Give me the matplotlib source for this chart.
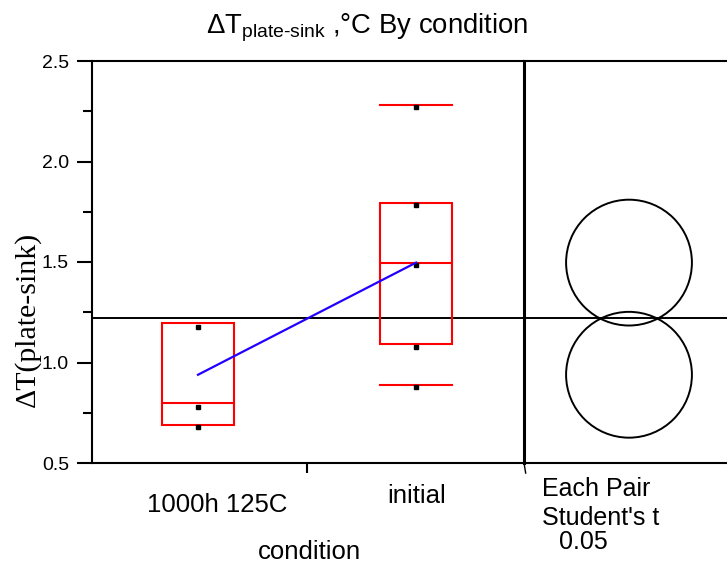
import matplotlib
matplotlib.use('Agg')
import matplotlib.pyplot as plt
from matplotlib.patches import Rectangle, Circle
import matplotlib.transforms as mtransforms

# ---- data ----
categories = ['1000h 125C', 'initial']
points_1000h = [1.178, 0.780, 0.679]
points_initial = [2.273, 1.785, 1.487, 1.079, 0.880]
q1 = [0.691, 1.090]
median = [0.800, 1.497]
q3 = [1.195, 1.795]
p10 = [None, 0.890]
p90 = [None, 2.283]
means = [0.939, 1.497]
grand_mean = 1.22
circle_radius = [0.313, 0.313]
yticks = [0.5, 1.0, 1.5, 2.0, 2.5]
ytick_labels = ['0.5', '1.0', '1.5', '2.0', '2.5']
yminor = [0.75, 1.25, 1.75, 2.25]
right_text = ['Each Pair', "Student's t", '0.05']

plt.rcParams['font.family'] = ['Liberation Sans', 'DejaVu Sans']
plt.rcParams['mathtext.fontset'] = 'custom'
plt.rcParams['mathtext.rm'] = 'Liberation Sans'
plt.rcParams['mathtext.it'] = 'Liberation Sans:italic'

W, H = 727, 564
fig = plt.figure(figsize=(W / 100, H / 100), dpi=100)

ax_l, ax_r, ax_mid, y_top, y_bot = 92, 524, 734, 61, 463
ax = fig.add_axes([ax_l / W, 1 - y_bot / H, (ax_r - ax_l) / W, (y_bot - y_top) / H])
ax2 = fig.add_axes([ax_r / W, 1 - y_bot / H, (ax_mid - ax_r) / W, (y_bot - y_top) / H])

ymin, ymax = 0.5, 2.5
ax.set_ylim(ymin, ymax)
ax.set_xlim(-0.486, 1.495)

lw = 1.5
red = '#ff0000'
hw = 0.165
all_points = [points_1000h, points_initial]
for i in range(len(categories)):
    ax.add_patch(Rectangle((i - hw, q1[i]), 2 * hw, q3[i] - q1[i], fill=False,
                           edgecolor=red, lw=lw, zorder=3))
    ax.plot([i - hw, i + hw], [median[i], median[i]], color=red, lw=lw, zorder=3)
    for v in (p10[i], p90[i]):
        if v is not None:
            ax.plot([i - hw, i + hw], [v, v], color=red, lw=lw, zorder=3)
    ax.plot([i] * len(all_points[i]), all_points[i], ls='none', marker='s',
            ms=3, color='black', zorder=4)

ax.plot(range(len(categories)), means, color='#2200ff', lw=1.6, zorder=5)
ax.axhline(grand_mean, color='black', lw=1.4, zorder=2)
ax2.axhline(grand_mean, color='black', lw=1.4, zorder=2)

# y axis
ax.set_yticks(yticks)
ax.set_yticklabels(ytick_labels)
ax.set_yticks(yminor, minor=True)
ax.tick_params(axis='y', which='major', length=10.8, width=1.5, pad=5.8,
               labelsize=14, direction='out')
ax.tick_params(axis='y', which='minor', length=6.5, width=1.5, direction='out')
ax.set_xticks([0.5])
ax.set_xticklabels([''])
ax.tick_params(axis='x', which='major', length=7.2, width=1.5, direction='out')
for s in ['left', 'bottom', 'top']:
    ax.spines[s].set_linewidth(1.5)
ax.spines['right'].set_visible(False)

# category labels
offsets = [(19.5, 49), (0.5, 40)]
for i, lab in enumerate(categories):
    tr = ax.get_xaxis_transform() + mtransforms.ScaledTranslation(
        offsets[i][0] / 100, -offsets[i][1] / 100, fig.dpi_scale_trans)
    ax.text(i, 0, lab, transform=tr, ha='center', va='baseline', fontsize=18.5)

# right panel
ax2.set_ylim(ymin, ymax)
px_per_unit = (y_bot - y_top) / (ymax - ymin)
half = (ax_mid - ax_r) / px_per_unit / 2
ax2.set_xlim(-half, half)
for m, r in zip(means, circle_radius):
    ax2.add_patch(Circle((0, m), r, fill=False, edgecolor='black', lw=1.4, zorder=3))
ax2.set_xticks([])
ax2.set_yticks([])
ax2.spines['left'].set_linewidth(2.2)
ax2.spines['top'].set_linewidth(1.5)
ax2.spines['bottom'].set_linewidth(1.5)
ax2.spines['right'].set_visible(False)
ax2.plot([0, 0.008], [0, -0.025], transform=ax2.transAxes, color='black',
         lw=1.0, clip_on=False)

# texts
fig.text(367 / W, 1 - 33 / H, 'ΔT$_{\\text{plate-sink}}$ ,°C By condition',
         ha='center', va='baseline', fontsize=19.8)
fig.text(27 / W, 1 - 319 / H, 'ΔT(plate-sink)', rotation=90, ha='center',
         va='center', fontsize=21.5, family=['Liberation Serif', 'DejaVu Serif'])
fig.text(309 / W, 1 - 559 / H, 'condition', ha='center', va='baseline', fontsize=18.5)
rt_pos = [(541.5, 496), (541.5, 525), (559, 549)]
for t, (x, y) in zip(right_text, rt_pos):
    fig.text(x / W, 1 - y / H, t, ha='left', va='baseline', fontsize=18)

fig.savefig('out.png', dpi=100)
